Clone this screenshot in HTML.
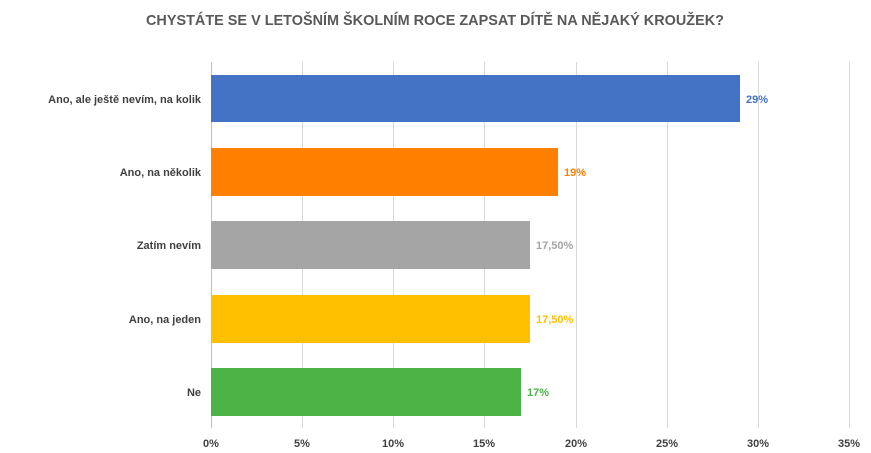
<!DOCTYPE html>
<html><head><meta charset="utf-8"><style>
body{margin:0;background:#fff;}
svg{display:block;font-family:"Liberation Sans",Arial,sans-serif;}
</style></head><body>
<svg width="871" height="453" viewBox="0 0 871 453">
<rect width="871" height="453" fill="#fff"/>
<text x="146" y="25" font-size="15" font-weight="bold" fill="#595959" textLength="578" lengthAdjust="spacingAndGlyphs">CHYSTÁTE SE V LETOŠNÍM ŠKOLNÍM ROCE ZAPSAT DÍTĚ NA NĚJAKÝ KROUŽEK?</text>
<g stroke="#d9d9d9" stroke-width="1">
<line x1="302.5" y1="62" x2="302.5" y2="428"/>
<line x1="393.5" y1="62" x2="393.5" y2="428"/>
<line x1="484.5" y1="62" x2="484.5" y2="428"/>
<line x1="576.5" y1="62" x2="576.5" y2="428"/>
<line x1="667.5" y1="62" x2="667.5" y2="428"/>
<line x1="758.5" y1="62" x2="758.5" y2="428"/>
<line x1="849.5" y1="62" x2="849.5" y2="428"/>
</g>
<line x1="211.5" y1="62" x2="211.5" y2="428" stroke="#bfbfbf"/>
<rect x="211" y="75" width="529" height="47" fill="#4472c4"/>
<rect x="211" y="148" width="347" height="48" fill="#ff7f00"/>
<rect x="211" y="221" width="319" height="48" fill="#a5a5a5"/>
<rect x="211" y="295" width="319" height="48" fill="#ffc000"/>
<rect x="211" y="368" width="310" height="48" fill="#4cb447"/>
<g font-size="11" font-weight="bold" fill="#404040" text-anchor="end">
<text x="201" y="103">Ano, ale ještě nevím, na kolik</text>
<text x="201" y="176">Ano, na několik</text>
<text x="201" y="249">Zatím nevím</text>
<text x="201" y="323">Ano, na jeden</text>
<text x="201" y="396">Ne</text>
</g>
<g font-size="11" font-weight="bold">
<text x="746" y="103" fill="#4472c4">29%</text>
<text x="564" y="176" fill="#ff7f00">19%</text>
<text x="536" y="249" fill="#a5a5a5">17,50%</text>
<text x="536" y="323" fill="#ffc000">17,50%</text>
<text x="527" y="396" fill="#4cb447">17%</text>
</g>
<g font-size="11" font-weight="bold" fill="#404040" text-anchor="middle">
<text x="211" y="447">0%</text>
<text x="302" y="447">5%</text>
<text x="393" y="447">10%</text>
<text x="484" y="447">15%</text>
<text x="576" y="447">20%</text>
<text x="667" y="447">25%</text>
<text x="758" y="447">30%</text>
<text x="849" y="447">35%</text>
</g>
</svg>
</body></html>
